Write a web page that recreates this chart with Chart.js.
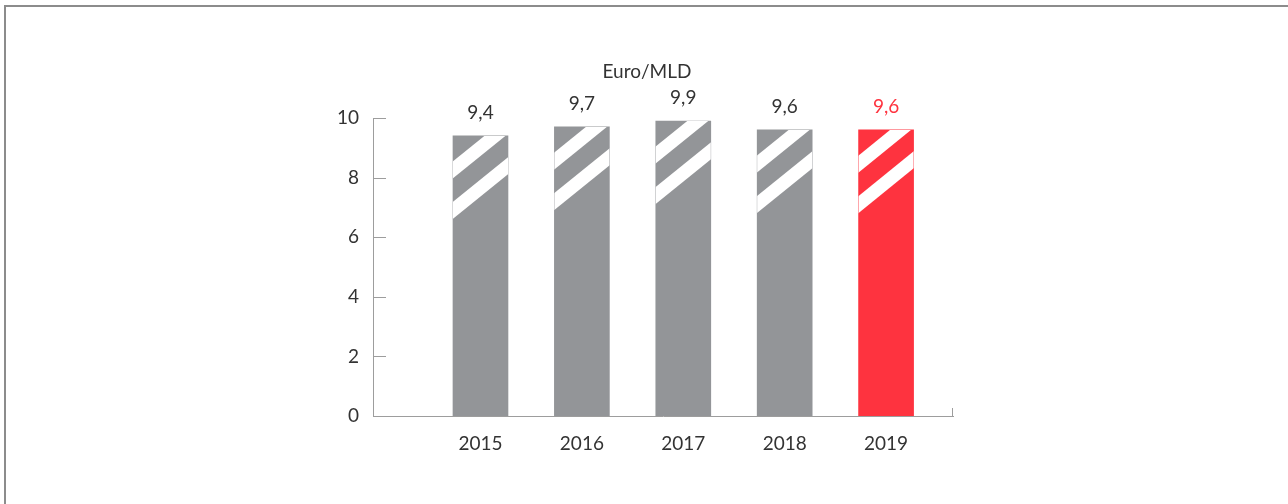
<!DOCTYPE html>
<html>
<head>
<meta charset="utf-8">
<script src="https://cdn.jsdelivr.net/npm/chart.js@4.4.1/dist/chart.umd.min.js"></script>
<style>
    html, body { margin: 0; padding: 0; background: #fff; overflow: hidden; }
    #wrap { position: relative; width: 1288px; height: 504px; }
    #frame {
        position: absolute; left: 4px; top: 5px; width: 1300px; height: 520px;
        border-top: 2px solid #8c8c8c; border-left: 2px solid #8c8c8c;
        pointer-events: none;
    }
</style>
</head>
<body>
<div id="wrap">
    <canvas id="costChart" width="1288" height="504"></canvas>
    <div id="frame"></div>
</div>
<script>
// Values
const years = [2015, 2016, 2017, 2018, 2019];
const values = [9.4, 9.7, 9.9, 9.6, 9.6];
const yTicks = [0, 2, 4, 6, 8, 10];
const unitLabel = 'Euro/MLD';

const GREY = '#939598';
const RED = '#fe333f';
const TEXT = '#333333';
const AXIS = '#9d9d9d';
const FONT = { family: 'Lato, "Open Sans", sans-serif', size: 19 };

// white diagonal "break" bands, offsets from the bar top (left edge) in px
const breakBands = [[25.5, 42.5], [66, 83]];
const breakSlope = 0.81;

const barColors = years.map((y, i) => i === years.length - 1 ? RED : GREY);

function fmt(v) {
    return v.toFixed(1).replace('.', ',');
}

// draws the bar breaks, the value labels, the unit label and the inward ticks
const decorations = {
    id: 'decorations',
    afterDatasetsDraw(chart) {
        const ctx = chart.ctx;
        const meta = chart.getDatasetMeta(0);
        meta.data.forEach((bar, i) => {
            const p = bar.getProps(['x', 'y', 'base', 'width'], true);
            const L = p.x - p.width / 2, R = p.x + p.width / 2;
            const T = p.y, B = p.base;
            ctx.save();
            ctx.beginPath();
            ctx.rect(L, T, p.width, B - T);
            ctx.clip();
            ctx.fillStyle = '#ffffff';
            const drop = breakSlope * p.width;
            breakBands.forEach(([a, b]) => {
                ctx.beginPath();
                ctx.moveTo(L - 1, T + a + breakSlope);
                ctx.lineTo(R + 1, T + a - drop - breakSlope);
                ctx.lineTo(R + 1, T + b - drop - breakSlope);
                ctx.lineTo(L - 1, T + b + breakSlope);
                ctx.closePath();
                ctx.fill();
            });
            ctx.restore();

            ctx.save();
            ctx.font = FONT.size + 'px ' + FONT.family;
            ctx.fillStyle = i === years.length - 1 ? RED : TEXT;
            ctx.textAlign = 'center';
            ctx.textBaseline = 'alphabetic';
            ctx.fillText(fmt(values[i]), p.x, T - 17);
            ctx.restore();
        });
    },
    afterDraw(chart) {
        const ctx = chart.ctx;
        const area = chart.chartArea;
        const yScale = chart.scales.y;
        ctx.save();
        ctx.strokeStyle = AXIS;
        ctx.lineWidth = 1;
        ctx.beginPath();
        yTicks.slice(1).forEach(v => {
            const py = Math.round(yScale.getPixelForValue(v)) + 0.5;
            ctx.moveTo(area.left, py);
            ctx.lineTo(area.left + 13, py);
        });
        const rx = Math.round(area.right) - 0.5;
        ctx.moveTo(rx, area.bottom);
        ctx.lineTo(rx, area.bottom - 8);
        ctx.stroke();

        ctx.font = FONT.size + 'px ' + FONT.family;
        ctx.fillStyle = TEXT;
        ctx.textAlign = 'center';
        ctx.textBaseline = 'middle';
        ctx.fillText(unitLabel, 647, 72);
        ctx.restore();
    }
};

new Chart(document.getElementById('costChart'), {
    type: 'bar',
    data: {
        datasets: [{
            data: years.map((y, i) => ({ x: y, y: values[i] })),
            backgroundColor: barColors,
            borderWidth: 0,
            barThickness: 55
        }]
    },
    options: {
        responsive: false,
        animation: false,
        devicePixelRatio: 1,
        layout: { padding: { left: 313, right: 335, top: 118, bottom: 48 } },
        plugins: {
            legend: { display: false },
            tooltip: { enabled: false },
            title: { display: false }
        },
        scales: {
            x: {
                type: 'linear',
                offset: false,
                min: 2013.94,
                max: 2019.66,
                grid: { display: false, drawTicks: false, offset: false },
                border: { display: true, color: AXIS, width: 1 },
                ticks: {
                    font: FONT,
                    color: TEXT,
                    padding: 16,
                    maxRotation: 0,
                    autoSkip: false,
                    callback: v => String(v)
                },
                afterBuildTicks: scale => { scale.ticks = years.map(v => ({ value: v })); },
                afterFit: scale => { scale.height = 40; }
            },
            y: {
                min: 0,
                max: 10,
                grid: { display: false, drawTicks: false },
                border: { display: true, color: AXIS, width: 1 },
                ticks: { font: FONT, color: TEXT, padding: 14 },
                afterBuildTicks: scale => { scale.ticks = yTicks.map(v => ({ value: v })); },
                afterFit: scale => { scale.width = 60; }
            }
        }
    },
    plugins: [decorations]
});
</script>
</body>
</html>
